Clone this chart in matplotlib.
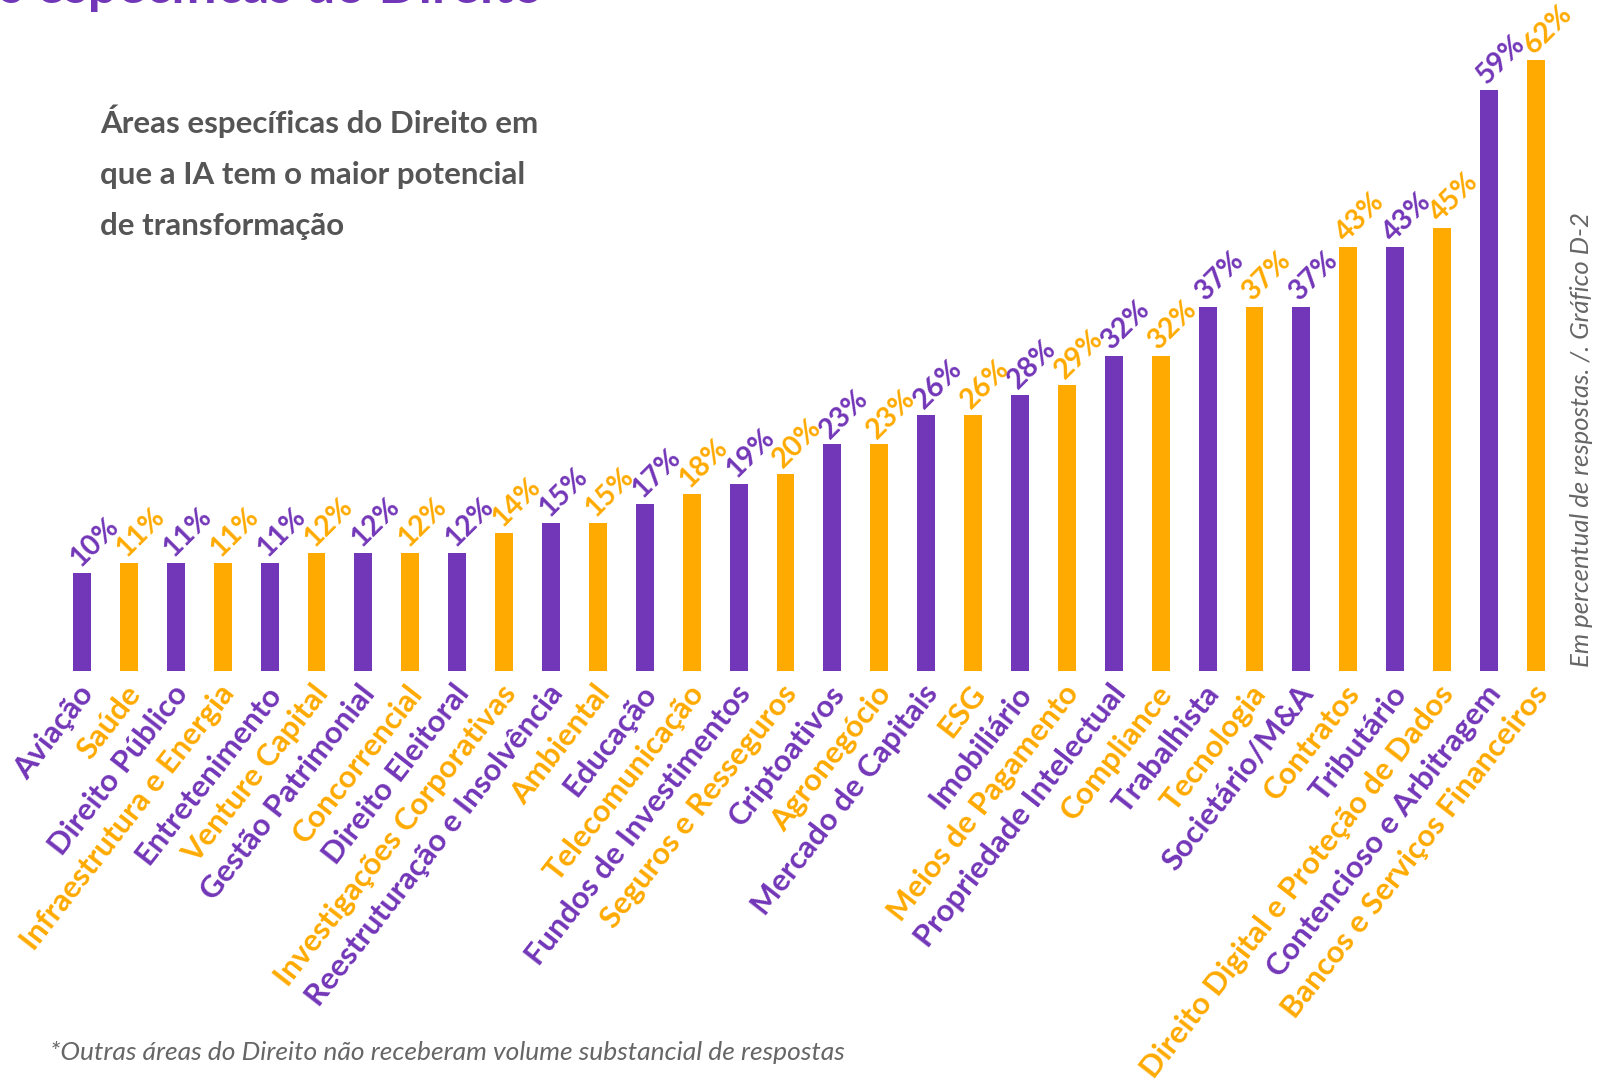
import matplotlib
matplotlib.use("Agg")
import matplotlib.pyplot as plt

# areas of law and share of answers (%)
areas = ["Aviação", "Saúde", "Direito Público", "Infraestrutura e Energia",
         "Entretenimento", "Venture Capital", "Gestão Patrimonial", "Concorrencial",
         "Direito Eleitoral", "Investigações Corporativas", "Reestruturação e Insolvência",
         "Ambiental", "Educação", "Telecomunicação", "Fundos de Investimentos",
         "Seguros e Resseguros", "Criptoativos", "Agronegócio", "Mercado de Capitais",
         "ESG", "Imobiliário", "Meios de Pagamento", "Propriedade Intelectual",
         "Compliance", "Trabalhista", "Tecnologia", "Societário/M&A", "Contratos",
         "Tributário", "Direito Digital e Proteção de Dados", "Contencioso e Arbitragem",
         "Bancos e Serviços Financeiros"]
valores = [10, 11, 11, 11, 11, 12, 12, 12, 12, 14, 15, 15, 17, 18, 19, 20,
           23, 23, 26, 26, 28, 29, 32, 32, 37, 37, 37, 43, 43, 45, 59, 62]

roxo = "#7236B8"
laranja = "#FFAA00"
cores = [roxo if i % 2 == 0 else laranja for i in range(len(areas))]

W, H = 1606, 1081
fig = plt.figure(figsize=(W / 100, H / 100), dpi=100)
fig.patch.set_facecolor("white")

base_px = 671      # baseline from top
px_pct = 9.85      # pixels per percent
x0_px = 82         # centre of first bar
step_px = 46.9     # bar spacing

ax = fig.add_axes([0, (H - base_px) / H, 1, base_px / H])
ax.set_xlim(-x0_px / step_px, (W - x0_px) / step_px)
ax.set_ylim(0, base_px / px_pct)
ax.axis("off")

xs = list(range(len(areas)))
ax.bar(xs, valores, width=0.38, color=cores)

fonte = ["Lato", "DejaVu Sans"]

for x, v, c in zip(xs, valores, cores):
    ax.text(x - 0.05, v + 0.5, f"{v}%", rotation=45, rotation_mode="anchor",
            ha="left", va="baseline", color=c, fontsize=20.5, fontweight="bold",
            family=fonte)

for x, nome, c in zip(xs, areas, cores):
    ax.text(x - 0.1, -0.9, nome, rotation=52, rotation_mode="anchor",
            ha="right", va="top", color=c, fontsize=22.3, fontweight="bold",
            family=fonte, clip_on=False)

# titles and notes
fig.text(543 / W, 1 - 3 / H, "Áreas específicas do Direito", ha="right", va="baseline",
         color=roxo, fontsize=38, fontweight="bold", family=fonte)

sub = ["Áreas específicas do Direito em", "que a IA tem o maior potencial", "de transformação"]
for k, linha in enumerate(sub):
    fig.text(100 / W, 1 - (133 + 51 * k) / H, linha, ha="left", va="baseline",
             color="#555555", fontsize=22.5, fontweight="bold", family=fonte)

fig.text(1582 / W, 1 - 667 / H, "Em percentual de respostas. /. Gráfico D-2",
         rotation=90, ha="center", va="bottom", color="#666666", fontsize=18.5,
         fontstyle="italic", fontweight="normal", family=fonte)

fig.text(50 / W, 1 - 1060 / H,
         "*Outras áreas do Direito não receberam volume substancial de respostas",
         ha="left", va="baseline", color="#666666", fontsize=19,
         fontstyle="italic", fontweight="normal", family=fonte)

fig.savefig("out.png", dpi=100, facecolor="white")
